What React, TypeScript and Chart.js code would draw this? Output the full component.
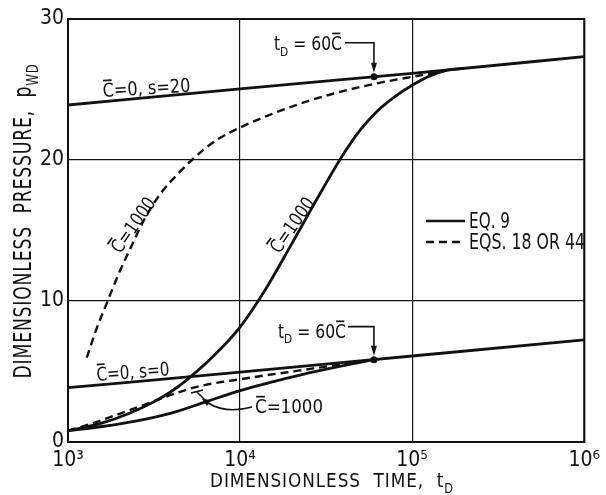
import React, { useEffect, useRef } from 'react';
import { Chart, registerables } from 'chart.js';

Chart.register(...registerables);

// ---------- data ----------
const xTicks = [1e3, 1e4, 1e5, 1e6];
const xTickLabels = ['10³', '10⁴', '10⁵', '10⁶'];
const yTicks = [0, 10, 20, 30];

// C = 0 reference lines
const tLine = [1000, 10000, 100000, 1000000];
const pLineS20 = [23.9, 25.05, 26.15, 27.33];
const pLineS0 = [3.85, 4.95, 6.1, 7.25];

// C = 1000, s = 20, Eq. 9 (solid)
const tSolidS20 = [1000, 1585, 2240, 3160, 3980, 5010, 7080, 10000, 14100, 19950, 28200, 39800, 50100, 63100, 79400, 100000, 125900, 158500, 199500];
const pSolidS20 = [0.8, 1.35, 2.0, 2.85, 3.58, 4.5, 6.15, 8.15, 10.85, 14.05, 17.3, 20.4, 22.15, 23.5, 24.5, 25.3, 25.95, 26.35, 26.5];

// C = 1000, s = 20, Eqs. 18 or 44 (dashed)
const tDashS20 = [1285, 1470, 1700, 1950, 2340, 2780, 3470, 4420, 5250, 6310, 7480, 10000, 14500, 22400, 34700, 54300, 67600, 100000, 141000];
const pDashS20 = [5.98, 8.08, 10.0, 11.8, 13.9, 15.8, 17.65, 19.1, 20.0, 20.85, 21.5, 22.3, 23.15, 24.0, 24.7, 25.28, 25.52, 25.9, 26.22];

// C = 1000, s = 0, Eq. 9 (solid)
const tSolidS0 = [1000, 1585, 2512, 3981, 6310, 10000, 15849, 25119, 39811, 60000];
const pSolidS0 = [0.8, 1.1, 1.5, 2.05, 2.85, 3.65, 4.3, 4.9, 5.42, 5.84];

// C = 1000, s = 0, Eqs. 18 or 44 (dashed)
const tDashS0 = [1000, 1410, 1860, 2750, 3890, 5010, 6310, 7940, 10000, 14500, 22400, 31600, 39800, 50100];
const pDashS0 = [0.8, 1.35, 1.87, 2.62, 3.3, 3.75, 4.05, 4.27, 4.45, 4.75, 5.08, 5.35, 5.52, 5.7];

// t_D = 60 C points
const tDot = [60000, 60000];
const pDot = [25.9, 5.84];

const legendLabels = ['EQ. 9', 'EQS. 18 OR 44'];

// ---------- styling ----------
const INK = '#111';
const FONT = "'Liberation Sans Narrow', 'DejaVu Sans Condensed', 'Liberation Sans', sans-serif";

type Seg = { t: string; sub?: boolean; bar?: boolean };
type RichOpts = { align?: 'left' | 'center' | 'right'; rot?: number; width?: number; mid?: boolean; spacing?: number };

function richText(ctx: CanvasRenderingContext2D, segs: Seg[], x: number, y: number, size: number, o: RichOpts = {}) {
  const subSize = size * 0.68;
  ctx.save();
  (ctx as any).letterSpacing = (o.spacing ?? 0) + 'px';
  const widths = segs.map((s) => {
    ctx.font = `${s.sub ? subSize : size}px ${FONT}`;
    return ctx.measureText(s.t).width;
  });
  const W = widths.reduce((a, b) => a + b, 0);
  const k = o.width ? o.width / W : 1;
  ctx.translate(x, y);
  if (o.rot) ctx.rotate((o.rot * Math.PI) / 180);
  ctx.scale(k, 1);
  let cx = o.align === 'center' ? -W / 2 : o.align === 'right' ? -W : 0;
  const cap = size * 0.69;
  const by = o.mid ? cap / 2 : 0;
  ctx.fillStyle = INK;
  ctx.strokeStyle = INK;
  ctx.textBaseline = 'alphabetic';
  ctx.textAlign = 'left';
  segs.forEach((s, i) => {
    ctx.font = `${s.sub ? subSize : size}px ${FONT}`;
    const yy = by + (s.sub ? size * 0.3 : 0);
    ctx.fillText(s.t, cx, yy);
    if (s.bar) {
      ctx.lineWidth = size * 0.09;
      ctx.beginPath();
      ctx.moveTo(cx + widths[i] * 0.1, by - cap - size * 0.17);
      ctx.lineTo(cx + widths[i] * 0.85, by - cap - size * 0.17);
      ctx.stroke();
    }
    cx += widths[i];
  });
  ctx.restore();
}

const C_BAR: Seg = { t: 'C', bar: true };

const annoPlugin = {
  id: 'annotations',
  beforeDraw(chart: any) {
    const ctx = chart.ctx as CanvasRenderingContext2D;
    ctx.save();
    ctx.fillStyle = '#fff';
    ctx.fillRect(0, 0, chart.width, chart.height);
    ctx.restore();
  },
  afterDatasetsDraw(chart: any) {
    const ctx = chart.ctx as CanvasRenderingContext2D;
    const a = chart.chartArea;
    const xs = chart.scales.x;
    const ys = chart.scales.y;
    ctx.save();
    // frame
    ctx.strokeStyle = INK;
    ctx.lineWidth = 2;
    ctx.strokeRect(a.left, a.top, a.right - a.left, a.bottom - a.top);

    // axis titles
    richText(ctx, [{ t: 'DIMENSIONLESS  TIME,  t' }, { t: 'D', sub: true }], 332, 487, 20, { align: 'center', width: 244, spacing: 1 });
    richText(ctx, [{ t: 'DIMENSIONLESS  PRESSURE,  p' }, { t: 'WD', sub: true }], 23, 221, 24, { align: 'center', rot: -90, width: 315, mid: true, spacing: 1 });

    // curve labels
    richText(ctx, [C_BAR, { t: '=0, s=20' }], 103, 97, 19, { rot: -3.5, width: 88 });
    richText(ctx, [C_BAR, { t: '=0, s=0' }], 97, 381, 19, { rot: -4.5, width: 73 });
    richText(ctx, [C_BAR, { t: '=1000' }], 133, 225, 19, { align: 'center', rot: -55, width: 63, mid: true });
    richText(ctx, [C_BAR, { t: '=1000' }], 292, 225, 19, { align: 'center', rot: -55, width: 63, mid: true });
    richText(ctx, [C_BAR, { t: '=1000' }], 255, 413, 19, { width: 68 });

    // leaders for the lower C=1000 label
    ctx.lineWidth = 1.6;
    ctx.strokeStyle = INK;
    ctx.fillStyle = INK;
    ctx.beginPath();
    ctx.moveTo(252, 407);
    ctx.quadraticCurveTo(226, 414, 208, 403);
    ctx.stroke();
    ctx.beginPath();
    ctx.moveTo(202, 399);
    ctx.lineTo(211, 400);
    ctx.lineTo(207, 406);
    ctx.closePath();
    ctx.fill();
    ctx.beginPath();
    ctx.moveTo(208, 403);
    ctx.lineTo(197, 392);
    ctx.moveTo(191, 393);
    ctx.lineTo(203, 390);
    ctx.stroke();

    // t_D = 60 C labels and arrows
    const cfg = [
      { dx: -32, dy: -27, ly: -34, lx: -29 },
      { dx: -28, dy: -22, ly: -33, lx: -26 },
    ];
    tDot.forEach((t, i) => {
      const xd = xs.getPixelForValue(t);
      const yd = ys.getPixelForValue(pDot[i]);
      const c = cfg[i];
      richText(ctx, [{ t: 't' }, { t: 'D', sub: true }, { t: ' = 60' }, C_BAR], xd + c.dx, yd + c.dy, 19, { align: 'right', width: 68 });
      ctx.lineWidth = 1.6;
      ctx.beginPath();
      ctx.moveTo(xd + c.lx, yd + c.ly);
      ctx.lineTo(xd, yd + c.ly);
      ctx.lineTo(xd, yd - 12);
      ctx.stroke();
      ctx.beginPath();
      ctx.moveTo(xd - 3, yd - 14);
      ctx.lineTo(xd + 3, yd - 14);
      ctx.lineTo(xd, yd - 4);
      ctx.closePath();
      ctx.fill();
    });

    // legend
    ctx.lineWidth = 2.6;
    ctx.beginPath();
    ctx.moveTo(426, 221);
    ctx.lineTo(465, 221);
    ctx.stroke();
    ctx.setLineDash([8, 5]);
    ctx.beginPath();
    ctx.moveTo(426, 242);
    ctx.lineTo(465, 242);
    ctx.stroke();
    ctx.setLineDash([]);
    richText(ctx, [{ t: legendLabels[0] }], 469, 228, 21, { width: 41 });
    richText(ctx, [{ t: legendLabels[1] }], 469, 249, 21, { width: 116 });
    ctx.restore();
  },
};

function pts(t: number[], p: number[]) {
  return t.map((v, i) => ({ x: v, y: p[i] }));
}

export default function App() {
  const ref = useRef<HTMLCanvasElement | null>(null);
  useEffect(() => {
    document.body.style.margin = '0';
    if (!ref.current) return;
    const solid = { borderColor: INK, borderWidth: 2.8, pointRadius: 0, fill: false, cubicInterpolationMode: 'monotone' as const };
    const dashed = { ...solid, borderWidth: 2.4, borderDash: [8, 5] };
    const tickFont = { family: FONT, size: 21 };
    const chart = new Chart(ref.current, {
      type: 'line',
      data: {
        datasets: [
          { label: 'C=0, s=20', data: pts(tLine, pLineS20), ...solid },
          { label: 'C=0, s=0', data: pts(tLine, pLineS0), ...solid },
          { label: 'C=1000, s=20 (Eq. 9)', data: pts(tSolidS20, pSolidS20), ...solid },
          { label: 'C=1000, s=0 (Eq. 9)', data: pts(tSolidS0, pSolidS0), ...solid },
          { label: 'C=1000, s=20 (Eqs. 18 or 44)', data: pts(tDashS20, pDashS20), ...dashed },
          { label: 'C=1000, s=0 (Eqs. 18 or 44)', data: pts(tDashS0, pDashS0), ...dashed },
          {
            label: 'tD = 60C',
            data: pts(tDot, pDot),
            showLine: false,
            pointRadius: 3.5,
            pointBackgroundColor: INK,
            pointBorderWidth: 0,
            borderColor: INK,
          },
        ],
      },
      options: {
        animation: false,
        responsive: true,
        maintainAspectRatio: false,
        layout: { padding: { left: 0, right: 16, top: 19, bottom: 0 }, autoPadding: false },
        plugins: { legend: { display: false }, tooltip: { enabled: false } },
        scales: {
          x: {
            type: 'logarithmic',
            min: 1000,
            max: 1000000,
            afterBuildTicks: (s: any) => {
              s.ticks = xTicks.map((v) => ({ value: v }));
            },
            afterFit: (s: any) => {
              s.height = 53;
            },
            ticks: {
              callback: (_v: any, i: number) => xTickLabels[i],
              font: tickFont,
              color: INK,
              padding: 6,
              maxRotation: 0,
              autoSkip: false,
            },
            grid: { color: INK, lineWidth: 1.2, drawTicks: false },
            border: { display: false },
          },
          y: {
            type: 'linear',
            min: 0,
            max: 30,
            afterBuildTicks: (s: any) => {
              s.ticks = yTicks.map((v) => ({ value: v }));
            },
            afterFit: (s: any) => {
              s.width = 68;
            },
            ticks: { font: tickFont, color: INK, padding: 4 },
            grid: { color: INK, lineWidth: 1.2, drawTicks: false },
            border: { display: false },
          },
        },
      },
      plugins: [annoPlugin],
    } as any);
    return () => chart.destroy();
  }, []);
  return (
    <div style={{ position: 'relative', width: 606, height: 495 }}>
      <canvas ref={ref} />
    </div>
  );
}
